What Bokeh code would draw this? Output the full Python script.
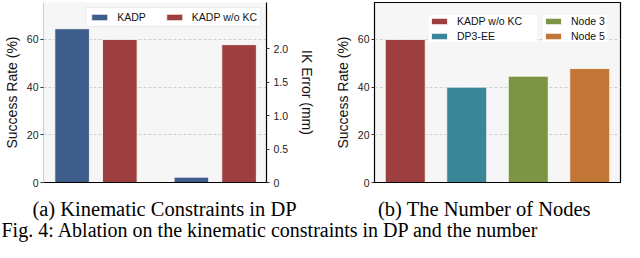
from bokeh.plotting import figure
from bokeh.models import (Range1d, FactorRange, LinearAxis, FixedTicker, Legend,
                          LegendItem, ColumnDataSource)
from bokeh.layouts import column, row
from bokeh.embed import file_html
from bokeh.resources import INLINE
from bokeh.core.properties import value

# ---------------- data ----------------
# (a) Kinematic constraints in DP
a_series = ["KADP", "KADP w/o KC"]
a_success = [64.5, 60.0]      # Success Rate (%)  (left axis)
a_ik_error = [0.08, 2.06]     # IK Error (mm)     (right axis)
a_colors = ["#3e5d8b", "#9d3f3f"]

# (b) The number of nodes
b_methods = ["KADP w/o KC", "DP3-EE", "Node 3", "Node 5"]
b_success = [60.0, 40.0, 44.6, 47.8]
b_colors = ["#9d3f3f", "#3a8598", "#7b9545", "#c17536"]

y_ticks = [0, 20, 40, 60]
ik_ticks = [0, 0.5, 1.0, 1.5, 2.0]
ik_labels = ["0", "0.5", "1.0", "1.5", "2.0"]

sub_captions = ["(a) Kinematic Constraints in DP", "(b) The Number of Nodes"]
fig_caption = "Fig. 4: Ablation on the kinematic constraints in DP and the number"

# ---------------- styling helpers ----------------
SANS = "Liberation Sans"
SERIF = "Liberation Serif"
BG = "#f6f6f6"


def style_yaxis(ax, label):
    ax.axis_label = label
    ax.axis_label_text_font = SANS
    ax.axis_label_text_font_size = "14px"
    ax.axis_label_text_font_style = "normal"
    ax.axis_label_text_color = "#111111"
    ax.axis_label_standoff = 4
    ax.major_label_text_font = SANS
    ax.major_label_text_font_size = "10.5px"
    ax.major_label_text_color = "#222222"
    ax.major_label_standoff = 2
    ax.major_tick_in = 0
    ax.major_tick_out = 3
    ax.major_tick_line_color = "#333333"
    ax.minor_tick_line_color = None


def style_xaxis(ax):
    ax.ticker = FixedTicker(ticks=[])
    ax.major_label_text_font_size = "0px"
    ax.major_label_standoff = 0
    ax.major_tick_out = 0
    ax.major_tick_in = 0
    ax.major_tick_line_color = None
    ax.minor_tick_line_color = None
    ax.axis_line_color = "black"
    ax.axis_line_width = 1.2


def style_legend(lg, border=True, pad=3):
    lg.label_text_font = SANS
    lg.label_text_font_size = "10.5px"
    lg.label_text_color = "#111111"
    lg.glyph_width = 20
    lg.glyph_height = 8
    lg.label_height = 12
    lg.label_standoff = 8
    lg.padding = pad
    lg.margin = 0
    lg.border_line_color = "#d8d8d8" if border else None
    lg.background_fill_color = "white"
    lg.background_fill_alpha = 0.92


CH = 188                 # chart height
TOP, BOT = 2, 6          # chart top / bottom borders
FH = CH - TOP - BOT      # frame height

# ---------------- (a) ----------------
P1_W, P1_L, P1_R = 318, 41, 36
p1 = figure(width=P1_W, height=CH, x_range=Range1d(-0.44, 1.43),
            y_range=Range1d(0, 75.5), output_backend="svg", toolbar_location=None,
            min_border_left=P1_L, min_border_right=P1_R, min_border_top=TOP,
            min_border_bottom=BOT)
p1.extra_y_ranges = {"ik": Range1d(0, 2.69)}
p1.background_fill_color = BG
p1.outline_line_color = None
p1.xgrid.grid_line_color = None
p1.ygrid.grid_line_color = "#cfcfcf"
p1.ygrid.grid_line_dash = "3 2"
p1.ygrid.ticker = FixedTicker(ticks=y_ticks)

left_ax = p1.left[0]
left_ax.ticker = FixedTicker(ticks=y_ticks)
style_yaxis(left_ax, "Success Rate (%)")
left_ax.axis_line_color = "#d0d0d0"
style_xaxis(p1.below[0])

right_ax = LinearAxis(y_range_name="ik", ticker=FixedTicker(ticks=ik_ticks),
                      major_label_overrides={t: l for t, l in zip(ik_ticks, ik_labels)})
style_yaxis(right_ax, "IK Error (mm)")
right_ax.major_label_standoff = 4
right_ax.axis_label_standoff = 8
right_ax.axis_line_color = "black"
right_ax.axis_line_width = 1.2
p1.add_layout(right_ax, "right")

offsets = [-0.2, 0.2]
bar_w = 0.29
a_items = []
for i, name in enumerate(a_series):
    r_s = p1.vbar(x=[0 + offsets[i]], top=[a_success[i]], width=bar_w,
                  fill_color=a_colors[i], line_color="white", line_width=0.8)
    r_k = p1.vbar(x=[1 + offsets[i]], top=[a_ik_error[i]], width=bar_w,
                  y_range_name="ik", fill_color=a_colors[i], line_color="white",
                  line_width=0.8)
    a_items.append(LegendItem(label=name, renderers=[r_s, r_k]))

lg1 = Legend(items=a_items, orientation="horizontal", location="top_right")
style_legend(lg1, pad=3)
lg1.margin = 5
lg1.spacing = 18
p1.add_layout(lg1)

# ---------------- (b) ----------------
P2_W, P2_L, P2_R = 306, 56, 4
p2 = figure(width=P2_W, height=CH, x_range=FactorRange(*b_methods, range_padding=0),
            y_range=Range1d(0, 75.5), output_backend="svg", toolbar_location=None,
            min_border_left=P2_L, min_border_right=P2_R, min_border_top=TOP,
            min_border_bottom=BOT)
p2.background_fill_color = BG
p2.outline_line_color = "black"
p2.outline_line_width = 1.2
p2.xgrid.grid_line_color = None
p2.ygrid.grid_line_color = "#cfcfcf"
p2.ygrid.grid_line_dash = "3 2"
p2.ygrid.ticker = FixedTicker(ticks=y_ticks)
p2.yaxis.ticker = FixedTicker(ticks=y_ticks)
style_yaxis(p2.left[0], "Success Rate (%)")
p2.left[0].axis_line_color = "black"
style_xaxis(p2.below[0])

src = ColumnDataSource(dict(m=b_methods, s=b_success, c=b_colors))
rb = p2.vbar(x="m", top="s", width=0.65, source=src, fill_color="c",
             line_color="white", line_width=0.8)
b_items = [LegendItem(label=m, renderers=[rb], index=i) for i, m in enumerate(b_methods)]

# two-column legend built from two adjoining legend boxes
f2_w = P2_W - P2_L - P2_R
col2_w, col1_w, leg_h = 72, 116, 35
leg_y = FH - 5 - leg_h
lg2a = Legend(items=b_items[:2], orientation="vertical",
              location=(f2_w - 5 - col2_w - col1_w + 2, leg_y))
style_legend(lg2a, border=False, pad=4)
lg2a.spacing = 3
lg2a.label_width = 80
lg2b = Legend(items=b_items[2:], orientation="vertical",
              location=(f2_w - 5 - col2_w, leg_y))
style_legend(lg2b, border=False, pad=4)
lg2b.spacing = 3
lg2b.label_width = 36
p2.add_layout(lg2a)
p2.add_layout(lg2b)

# ---------------- captions ----------------
CAP_H = 242 - CH
cap = figure(width=624, height=CAP_H, x_range=Range1d(0, 624), y_range=Range1d(0, CAP_H),
             output_backend="svg", toolbar_location=None, min_border=0)
cap.axis.visible = False
cap.grid.visible = False
cap.outline_line_color = None
cap.text(x=[164, 484], y=[CAP_H - 20, CAP_H - 20], text=sub_captions,
         text_font=value(SERIF), text_font_size="20.5px", text_align="center",
         text_baseline="alphabetic", text_color="black")
cap.text(x=[1], y=[13], text=[fig_caption], text_font=value(SERIF),
         text_font_size="20px", text_align="left", text_baseline="alphabetic",
         text_color="black")

layout = column(row(p1, p2), cap)
open("out.html", "w").write(file_html(layout, INLINE))
